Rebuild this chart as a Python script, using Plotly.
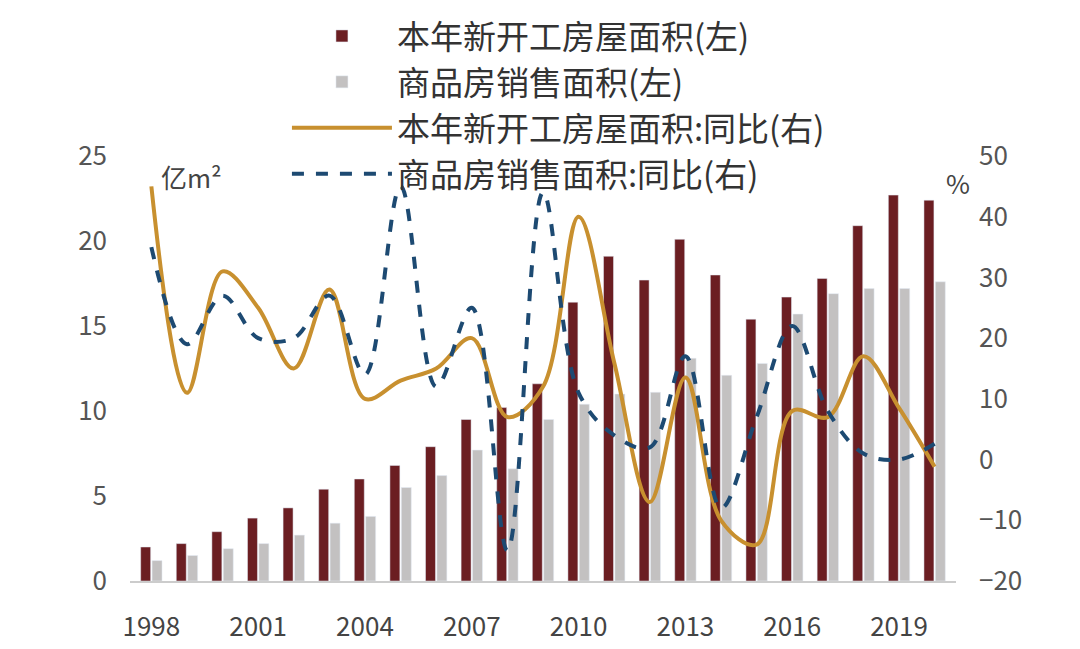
import plotly.graph_objects as go

years = list(range(1998, 2021))
new_starts = [2.0, 2.2, 2.9, 3.7, 4.3, 5.4, 6.0, 6.8, 7.9, 9.5, 10.2, 11.6, 16.4, 19.1, 17.7, 20.1, 18.0, 15.4, 16.7, 17.8, 20.9, 22.7, 22.4]
sales = [1.2, 1.5, 1.9, 2.2, 2.7, 3.4, 3.8, 5.5, 6.2, 7.7, 6.6, 9.5, 10.4, 11.0, 11.1, 13.1, 12.1, 12.8, 15.7, 16.9, 17.2, 17.2, 17.6]
new_yoy = [45, 11, 31, 25, 15, 28, 10, 13, 15, 20, 7, 12, 40, 16, -7, 13.5, -10, -14, 8, 7, 17, 8.5, -1.2]
sales_yoy = [35, 19, 27, 20, 20, 27, 14, 45, 12, 25, -15, 44, 11, 4, 2, 17, -8, 7, 22, 8, 1, 0, 2.6]
xticks = [1998, 2001, 2004, 2007, 2010, 2013, 2016, 2019]

font = "Noto Sans CJK SC"
fig = go.Figure()
fig.add_bar(x=years, y=new_starts, name="本年新开工房屋面积(左)", marker_color="#6b1e22", offset=-0.3, width=0.28)
fig.add_bar(x=years, y=sales, name="商品房销售面积(左)", marker_color="#c3c1c1", offset=0.02, width=0.28)
fig.add_scatter(x=years, y=new_yoy, name="本年新开工房屋面积:同比(右)", yaxis="y2", mode="lines",
                line=dict(color="#c8902f", width=4, shape="spline", smoothing=1.0))
fig.add_scatter(x=years, y=sales_yoy, name="商品房销售面积:同比(右)", yaxis="y2", mode="lines",
                line=dict(color="#1d4a72", width=4, dash="dash", shape="spline", smoothing=1.0))

fig.update_layout(
    width=1080, height=649, plot_bgcolor="white", paper_bgcolor="white",
    margin=dict(l=122, r=132, t=148, b=76, autoexpand=False),
    font=dict(family=font, size=26, color="#555"),
    barmode="overlay", showlegend=True,
    legend=dict(x=0.19, y=1.0, xref="paper", yref="container", xanchor="left", yanchor="top",
                font=dict(size=33, color="#333"), itemwidth=100, bgcolor="rgba(0,0,0,0)",
                tracegroupgap=0),
    xaxis=dict(range=[1997.4, 2020.6], tickvals=xticks, showgrid=False, showline=True,
               linecolor="#ccc", linewidth=2, ticks="", ticklabelstandoff=22,
               tickfont=dict(size=26, color="#444")),
    yaxis=dict(range=[0, 25], dtick=5, showgrid=False, zeroline=False, ticklabelstandoff=22,
               tickfont=dict(size=26, color="#555")),
    yaxis2=dict(range=[-20, 50], dtick=10, overlaying="y", side="right", showgrid=False,
                zeroline=False, ticklabelstandoff=22, tickfont=dict(size=26, color="#555")),
    annotations=[
        dict(text="亿m²", x=0.035, y=1.0, xref="paper", yref="paper", showarrow=False,
             xanchor="left", yanchor="top", font=dict(size=26, color="#444")),
        dict(text="%", x=0.985, y=0.985, xref="paper", yref="paper", showarrow=False,
             xanchor="left", yanchor="top", font=dict(size=26, color="#444")),
    ],
)
fig.write_html("out.html")
